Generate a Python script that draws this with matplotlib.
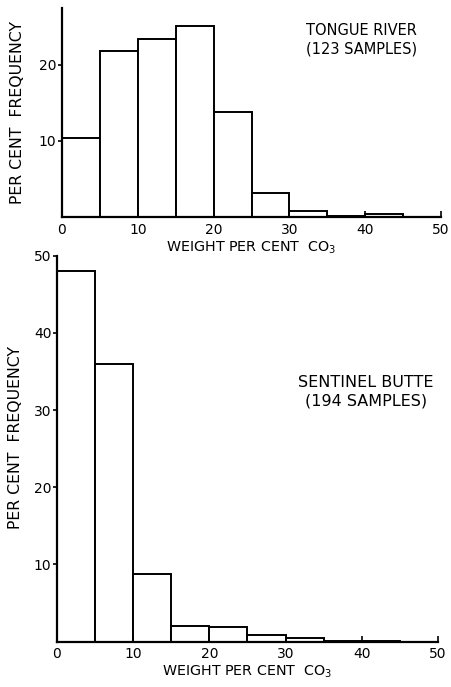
import matplotlib
matplotlib.use('Agg')
import matplotlib.pyplot as plt

# bin left edges (weight per cent CO3), bin width 5
bin_edges = [0, 5, 10, 15, 20, 25, 30, 35, 40]
BIN_W = 5

# per cent frequency
tongue_river = [10.4, 21.8, 23.3, 25.1, 13.8, 3.1, 0.8, 0.1, 0.4]
sentinel_butte = [48.0, 36.0, 8.8, 2.0, 1.95, 0.8, 0.45, 0.05, 0.05]

x_ticks = [0, 10, 20, 30, 40, 50]
top_y_ticks = [10, 20]
bot_y_ticks = [10, 20, 30, 40, 50]

plt.rcParams['font.family'] = ['DejaVu Sans']

fig = plt.figure(figsize=(4.52, 6.87), dpi=100)
ax1 = fig.add_axes([0.137, 0.684, 0.839, 0.304])
ax2 = fig.add_axes([0.126, 0.066, 0.843, 0.562])

for ax, vals, ymax, yt, lx, ly in [(ax1, tongue_river, 27.4, top_y_ticks, -0.098, 0.5),
                                   (ax2, sentinel_butte, 50, bot_y_ticks, -0.089, 0.53)]:
    ax.bar(bin_edges, vals, width=BIN_W, align='edge', color='white',
           edgecolor='black', linewidth=1.4)
    for side in ('top', 'right'):
        ax.spines[side].set_visible(False)
    for side in ('left', 'bottom'):
        ax.spines[side].set_linewidth(1.6)
    ax.set_xlim(0, 50)
    ax.set_ylim(0, ymax)
    ax.set_xticks(x_ticks)
    ax.set_yticks(yt)
    ax.tick_params(axis='x', direction='in', length=4, width=1.2, labelsize=10, pad=4)
    ax.tick_params(axis='y', direction='out', length=3, width=1.2, labelsize=10, pad=1)
    ax.set_ylabel('PER CENT  FREQUENCY', fontsize=11.3)
    ax.yaxis.set_label_coords(lx, ly)
    ax.set_xlabel('WEIGHT PER CENT  CO$_3$', fontsize=10.3, labelpad=2)

ax1.text(0.79, 0.93, 'TONGUE RIVER\n(123 SAMPLES)', transform=ax1.transAxes,
         ha='center', va='top', fontsize=10.5, linespacing=1.3)
ax2.text(0.81, 0.69, 'SENTINEL BUTTE\n(194 SAMPLES)', transform=ax2.transAxes,
         ha='center', va='top', fontsize=11.5, linespacing=1.3)

fig.savefig('out.png', dpi=100)
